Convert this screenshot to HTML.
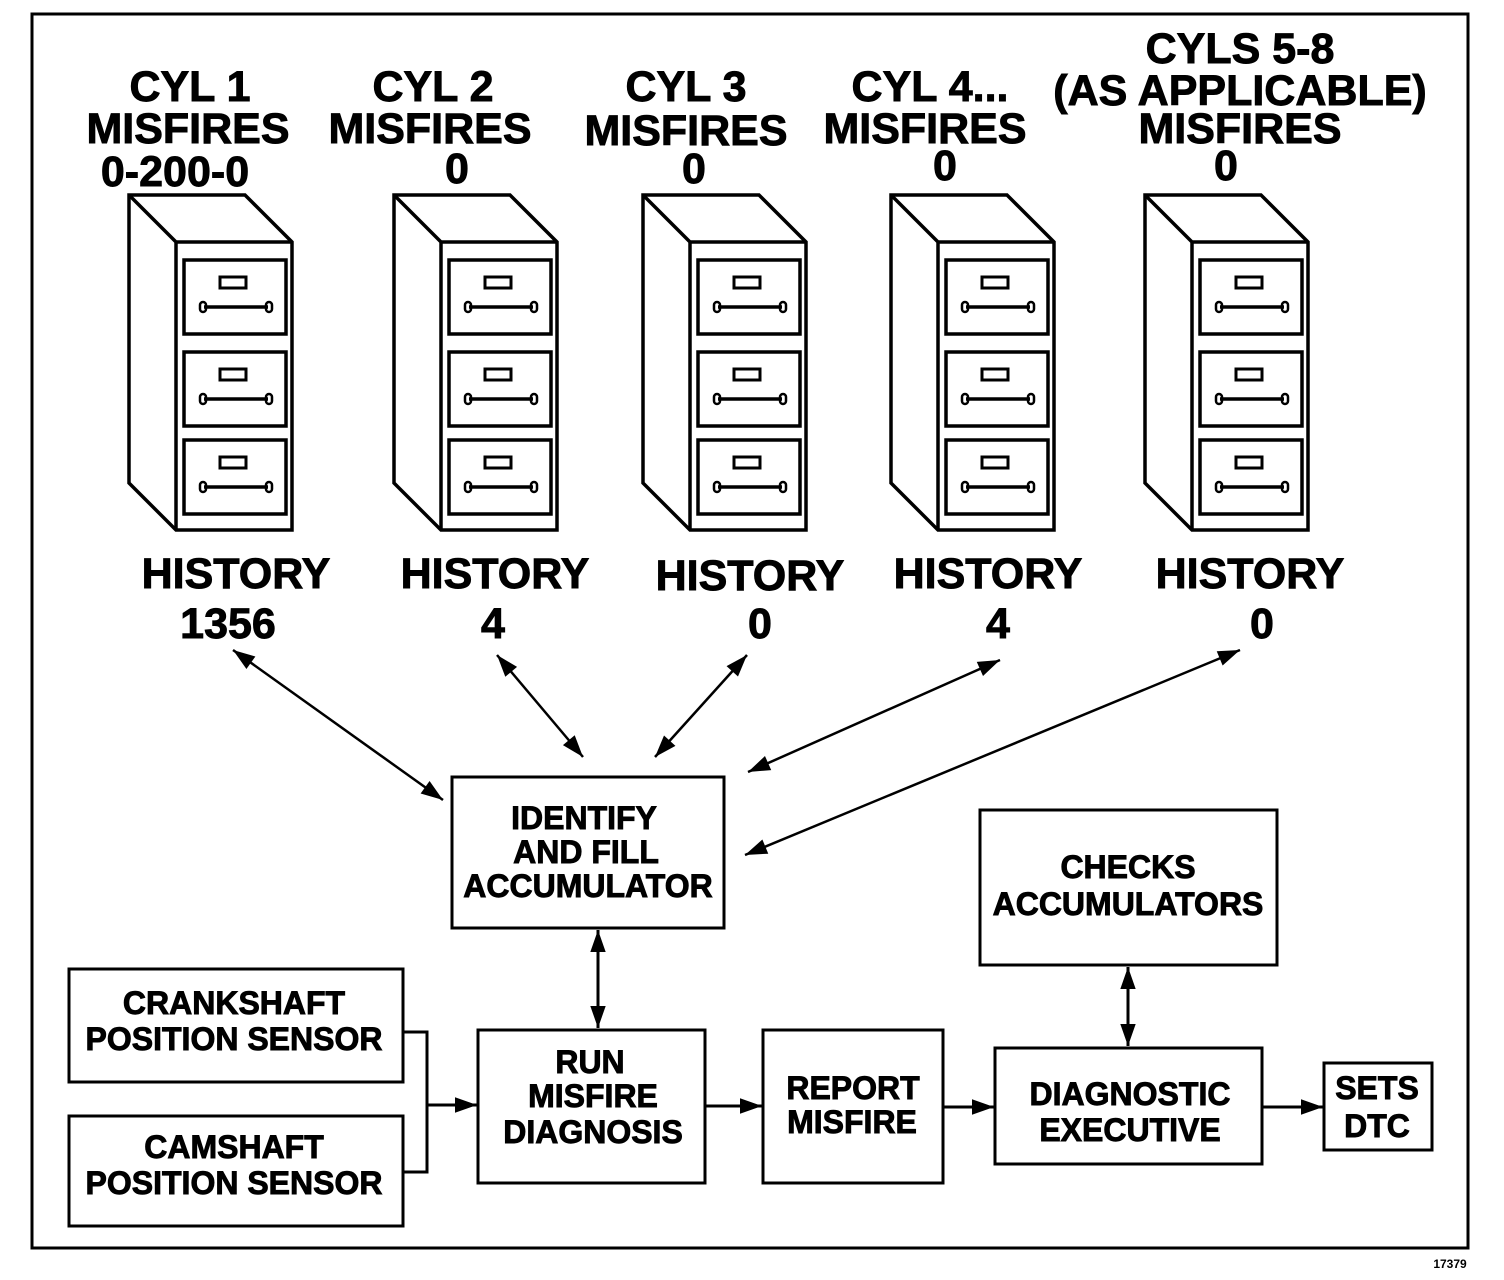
<!DOCTYPE html>
<html><head><style>
html,body{margin:0;padding:0;background:#fff;}
svg{display:block;}
text{font-family:"Liberation Sans",Arial,sans-serif;font-weight:bold;fill:#000;text-anchor:middle;stroke:#000;stroke-width:0.9;}
.h{font-size:43px;}
.b{font-size:32px;}
</style></head><body>
<svg width="1504" height="1280" viewBox="0 0 1504 1280" xmlns="http://www.w3.org/2000/svg">
<defs>
<marker id="m" viewBox="0 0 10 10" refX="10" refY="5" markerWidth="32" markerHeight="22" orient="auto-start-reverse" markerUnits="userSpaceOnUse">
<path d="M0,1.5 L10,5 L0,8.5 Z" fill="#000"/>
</marker>
<g id="dr">
<rect x="0" y="0" width="102" height="74" fill="none" stroke="#000" stroke-width="3.5"/>
<rect x="36" y="17" width="26" height="11" fill="none" stroke="#000" stroke-width="3"/>
<line x1="20" y1="47" x2="84" y2="47" stroke="#000" stroke-width="3.5"/>
<rect x="16" y="42" width="6" height="10" rx="3" fill="none" stroke="#000" stroke-width="2.5"/>
<rect x="82" y="42" width="6" height="10" rx="3" fill="none" stroke="#000" stroke-width="2.5"/>
</g>
<g id="cab" fill="none" stroke="#000" stroke-width="3.5">
<path d="M0,0 L116,0 L163,47 L163,335 L47,335 L0,288 Z"/>
<path d="M0,0 L47,47 L163,47 M47,47 L47,335"/>
<use href="#dr" x="55" y="65"/>
<use href="#dr" x="55" y="157"/>
<use href="#dr" x="55" y="245"/>
</g>
</defs>
<rect x="32" y="14" width="1436" height="1234" fill="none" stroke="#000" stroke-width="3"/>

<use href="#cab" x="129" y="195"/>
<use href="#cab" x="394" y="195"/>
<use href="#cab" x="643" y="195"/>
<use href="#cab" x="891" y="195"/>
<use href="#cab" x="1145" y="195"/>

<text class="h" x="190" y="101">CYL 1</text>
<text class="h" x="188" y="143">MISFIRES</text>
<text class="h" x="175" y="186">0-200-0</text>
<text class="h" x="433" y="101">CYL 2</text>
<text class="h" x="430" y="143">MISFIRES</text>
<text class="h" x="457" y="183">0</text>
<text class="h" x="686" y="101">CYL 3</text>
<text class="h" x="686" y="145">MISFIRES</text>
<text class="h" x="694" y="183">0</text>
<text class="h" x="930" y="101">CYL 4...</text>
<text class="h" x="925" y="143">MISFIRES</text>
<text class="h" x="945" y="180">0</text>
<text class="h" x="1240" y="63">CYLS 5-8</text>
<text class="h" x="1240" y="105">(AS APPLICABLE)</text>
<text class="h" x="1240" y="143">MISFIRES</text>
<text class="h" x="1226" y="180">0</text>

<text class="h" x="236" y="588">HISTORY</text>
<text class="h" x="495" y="588">HISTORY</text>
<text class="h" x="750" y="590">HISTORY</text>
<text class="h" x="988" y="588">HISTORY</text>
<text class="h" x="1250" y="588">HISTORY</text>
<text class="h" x="228" y="638">1356</text>
<text class="h" x="493" y="638">4</text>
<text class="h" x="760" y="638">0</text>
<text class="h" x="998" y="638">4</text>
<text class="h" x="1262" y="638">0</text>

<g fill="none" stroke="#000" stroke-width="3">
<rect x="452" y="777" width="272" height="151"/>
<rect x="980" y="810" width="297" height="155"/>
<rect x="69" y="969" width="334" height="113"/>
<rect x="69" y="1116" width="334" height="110"/>
<rect x="478" y="1030" width="227" height="153"/>
<rect x="763" y="1030" width="180" height="153"/>
<rect x="995" y="1048" width="267" height="116"/>
<rect x="1324" y="1063" width="108" height="87"/>
<path d="M403,1032 L427,1032 L427,1172 L403,1172"/>
</g>
<g stroke="#000" stroke-width="2.5" fill="none">
<line x1="233" y1="650" x2="443" y2="800" marker-start="url(#m)" marker-end="url(#m)"/>
<line x1="497" y1="655" x2="583" y2="757" marker-start="url(#m)" marker-end="url(#m)"/>
<line x1="747" y1="655" x2="655" y2="757" marker-start="url(#m)" marker-end="url(#m)"/>
<line x1="1000" y1="660" x2="748" y2="772" marker-start="url(#m)" marker-end="url(#m)"/>
<line x1="1240" y1="650" x2="745" y2="855" marker-start="url(#m)" marker-end="url(#m)"/>
<line x1="598" y1="930" x2="598" y2="1028" stroke-width="3" marker-start="url(#m)" marker-end="url(#m)"/>
<line x1="1128" y1="967" x2="1128" y2="1046" stroke-width="3" marker-start="url(#m)" marker-end="url(#m)"/>
<line x1="427" y1="1105" x2="477" y2="1105" stroke-width="3" marker-end="url(#m)"/>
<line x1="705" y1="1106" x2="762" y2="1106" stroke-width="3" marker-end="url(#m)"/>
<line x1="943" y1="1107" x2="994" y2="1107" stroke-width="3" marker-end="url(#m)"/>
<line x1="1262" y1="1107" x2="1323" y2="1107" stroke-width="3" marker-end="url(#m)"/>
</g>

<text class="b" x="584" y="829">IDENTIFY</text>
<text class="b" x="586" y="863">AND FILL</text>
<text class="b" x="588" y="897">ACCUMULATOR</text>
<text class="b" x="1128" y="878">CHECKS</text>
<text class="b" x="1128" y="915">ACCUMULATORS</text>
<text class="b" x="234" y="1014">CRANKSHAFT</text>
<text class="b" x="234" y="1050">POSITION SENSOR</text>
<text class="b" x="234" y="1158">CAMSHAFT</text>
<text class="b" x="234" y="1194">POSITION SENSOR</text>
<text class="b" x="590" y="1073">RUN</text>
<text class="b" x="593" y="1107">MISFIRE</text>
<text class="b" x="593" y="1143">DIAGNOSIS</text>
<text class="b" x="853" y="1099">REPORT</text>
<text class="b" x="852" y="1133">MISFIRE</text>
<text class="b" x="1130" y="1105">DIAGNOSTIC</text>
<text class="b" x="1130" y="1141">EXECUTIVE</text>
<text class="b" x="1377" y="1099">SETS</text>
<text class="b" x="1377" y="1137">DTC</text>
<text x="1450" y="1268" style="font-size:12px;stroke-width:0">17379</text>
</svg>
</body></html>
